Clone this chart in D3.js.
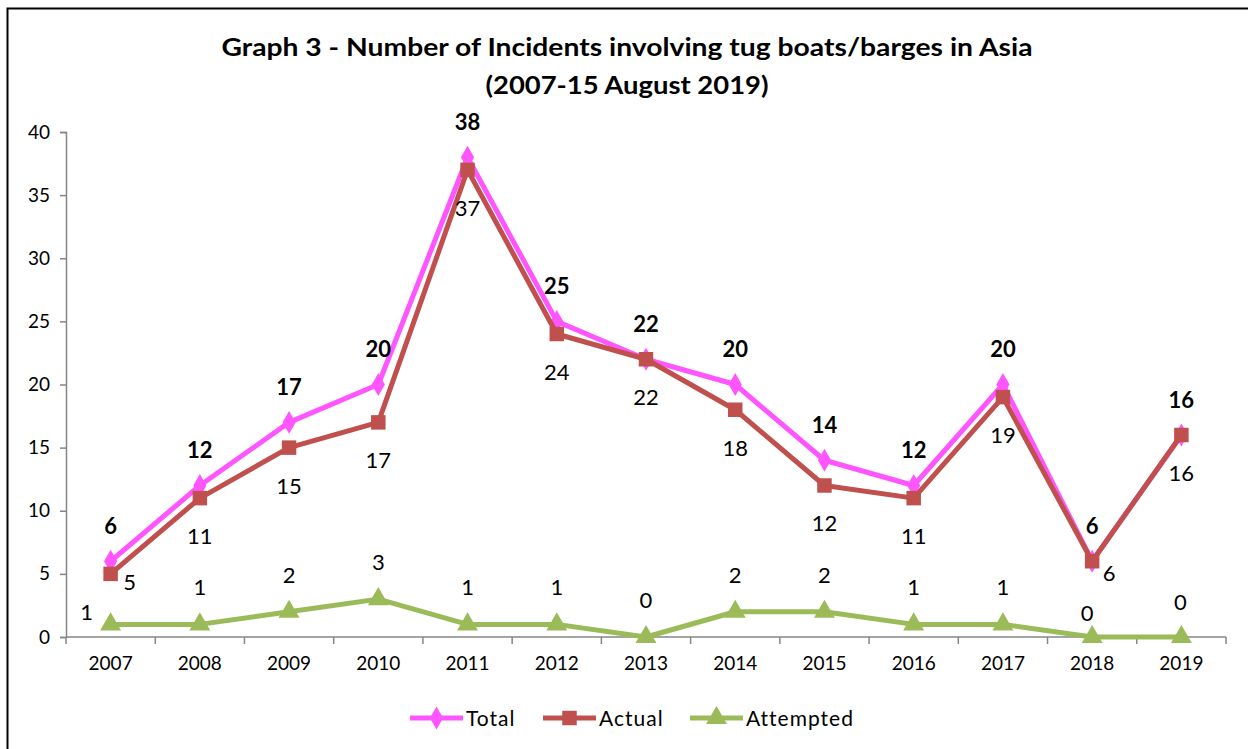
<!DOCTYPE html>
<html><head><meta charset="utf-8">
<script src="https://cdn.jsdelivr.net/npm/d3@7"></script>
<style>body{margin:0;background:#fff;} svg{display:block;font-family:Lato,"Open Sans",sans-serif;}</style>
</head><body>
<svg id="c" width="1248" height="749"></svg>
<script>
const years = ["2007","2008","2009","2010","2011","2012","2013","2014","2015","2016","2017","2018","2019"];
const total = [6,12,17,20,38,25,22,20,14,12,20,6,16];
const actual = [5,11,15,17,37,24,22,18,12,11,19,6,16];
const attempted = [1,1,2,3,1,1,0,2,2,1,1,0,0];
const yTicks = [0,5,10,15,20,25,30,35,40];
const titleLines = ["Graph 3 - Number of Incidents involving tug boats/barges in Asia","(2007-15 August 2019)"];
const seriesNames = ["Total","Actual","Attempted"];

const svg = d3.select("#c");
svg.append("rect").attr("x",7.5).attr("y",8.5).attr("width",1400).attr("height",900)
  .attr("fill","#fff").attr("stroke","#000").attr("stroke-width",2);

const x = d3.scaleBand().domain(years).range([66,1226]);
const y = d3.scaleLinear().domain([0,40]).range([637,132]);
const cx = d => x(d)+x.bandwidth()/2;

// title
const titleLen=[811,283];
svg.append("g").selectAll("text").data(titleLines).join("text")
  .attr("x",627).attr("y",(d,i)=>56+i*38).attr("text-anchor","middle")
  .attr("font-weight","bold").attr("font-size",25).attr("fill","#000")
  .attr("textLength",(d,i)=>titleLen[i]).attr("lengthAdjust","spacingAndGlyphs").text(d=>d);

// axes
const axisColor="#868686";
const yAxis = svg.append("g").attr("transform","translate(66,0)")
  .call(d3.axisLeft(y).tickValues(yTicks).tickSize(6).tickPadding(10));
const xAxis = svg.append("g").attr("transform","translate(0,637)")
  .call(d3.axisBottom(x).tickSize(0).tickPadding(20));
[yAxis,xAxis].forEach(g=>{
  g.select(".domain").attr("stroke",axisColor).attr("stroke-width",1.5);
  g.selectAll(".tick line").attr("stroke",axisColor).attr("stroke-width",1.5);
  g.selectAll("text").attr("font-size",19).attr("fill","#000").attr("font-family","Lato,sans-serif");
});
xAxis.select(".domain").attr("d","M66,0H1226");
// x tick marks at band boundaries
svg.append("g").selectAll("line").data(years.concat(["end"])).join("line")
  .attr("x1",(d,i)=>66+i*x.step()).attr("x2",(d,i)=>66+i*x.step())
  .attr("y1",637).attr("y2",644).attr("stroke",axisColor).attr("stroke-width",1.5);

const colors = {Total:"#FF55FF",Actual:"#C0504D",Attempted:"#9BBB59"};
const line = d3.line().x((d,i)=>cx(years[i])).y(d=>y(d));

function drawSeries(vals,color,sym,size){
  svg.append("path").datum(vals).attr("d",line).attr("fill","none")
    .attr("stroke",color).attr("stroke-width",5).attr("stroke-linejoin","round");
  svg.append("g").selectAll("path").data(vals).join("path")
    .attr("transform",(d,i)=>`translate(${cx(years[i])},${y(d)})`)
    .attr("d",d3.symbol().type(sym).size(size)).attr("fill",color);
}
drawSeries(total,colors.Total,d3.symbolDiamond,150);
drawSeries(actual,colors.Actual,d3.symbolSquare,210);
drawSeries(attempted,colors.Attempted,d3.symbolTriangle,190);

// labels
const totOff = total.map(()=>[0,-35]);
const actOff = actual.map(()=>[0,38]);
actOff[0]=[19,8]; actOff[11]=[17,12];
const attOff = attempted.map(()=>[0,-37]);
attOff[0]=[-24,-12]; attOff[11]=[-5,-24]; attOff[12]=[-1,-35];
function labels(vals,off,bold){
  svg.append("g").selectAll("text").data(vals).join("text")
    .attr("x",(d,i)=>cx(years[i])+off[i][0]).attr("y",(d,i)=>y(d)+off[i][1])
    .attr("dy","0.36em").attr("text-anchor","middle").attr("font-size",22)
    .attr("font-weight",bold?"bold":"normal").attr("fill","#000").text(d=>d);
}
labels(total,totOff,true);
labels(actual,actOff,false);
labels(attempted,attOff,false);

// legend
const legX=[410,543,690];
const lg = svg.append("g");
seriesNames.forEach((n,i)=>{
  const g=lg.append("g").attr("transform",`translate(${legX[i]},718)`);
  g.append("line").attr("x1",0).attr("x2",53).attr("stroke",colors[n]).attr("stroke-width",5);
  const sym=[d3.symbolDiamond,d3.symbolSquare,d3.symbolTriangle][i];
  const sz=[150,210,190][i];
  g.append("path").attr("transform","translate(26.5,0)").attr("d",d3.symbol().type(sym).size(sz)).attr("fill",colors[n]);
  g.append("text").attr("x",56).attr("dy","0.36em").attr("font-size",21).attr("letter-spacing",1).attr("fill","#000").text(n);
});
</script>
</body></html>
